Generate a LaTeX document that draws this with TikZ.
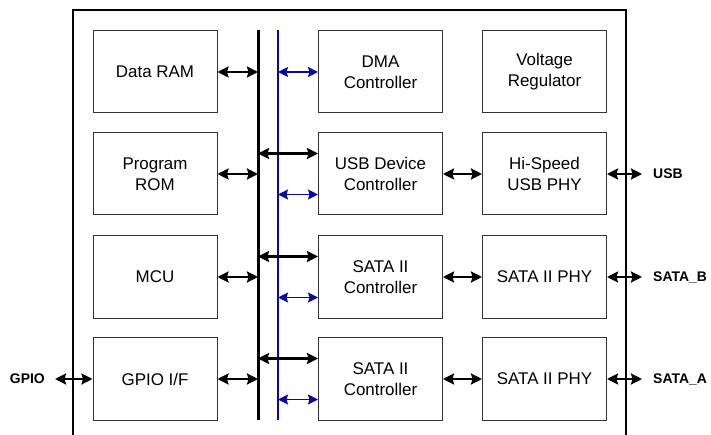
\documentclass[tikz,border=0pt]{standalone}
\usepackage{fontspec}
\setmainfont{Liberation Sans}
\usetikzlibrary{arrows.meta,positioning}
\definecolor{busblue}{RGB}{10,10,150}

\begin{document}
\begin{tikzpicture}[x=1bp,y=-1bp,
    block/.style={shape=rectangle,draw=black!80,line width=1bp,minimum width=124bp,minimum height=82bp,inner sep=0pt,align=center,font=\fontsize{17}{21}\selectfont},
    extlabel/.style={inner sep=0pt,font=\bfseries\fontsize{14}{16}\selectfont},
    blackarrow/.style={{Stealth[length=11bp,width=11bp,inset=1.5bp]}-{Stealth[length=11bp,width=11bp,inset=1.5bp]},line width=2.2bp,black},
    bluearrow/.style={{Stealth[length=10bp,width=10bp,inset=1.5bp]}-{Stealth[length=10bp,width=10bp,inset=1.5bp]},line width=1.8bp,busblue}]
    \useasboundingbox (0,0) rectangle (711,435);

    \draw[line width=2.7bp] (73,435) -- (73,10) -- (626,10) -- (626,435);

    \coordinate (kt) at (258,30);
    \coordinate (kb) at (258,420);
    \coordinate (bt) at (278,30);
    \coordinate (bb) at (278,420);
    \draw[line width=3bp] (kt) -- (kb);
    \draw[line width=2.6bp,busblue] (bt) -- (bb);

    \node[block] (ram) at (155,72) {Data RAM};
    \node[block] (rom) at (155,174) {Program\\ROM};
    \node[block] (mcu) at (155,277) {MCU};
    \node[block] (gpio) at (155,379) {GPIO I/F};
    \node[block] (dma) at (380.5,72) {DMA\\Controller};
    \node[block] (usbc) at (380.5,174) {USB Device\\Controller};
    \node[block] (satabc) at (380.5,277) {SATA II\\Controller};
    \node[block] (sataac) at (380.5,379) {SATA II\\Controller};
    \node[block] (vreg) at (544.5,72) {Voltage\\Regulator};
    \node[block] (usbphy) at (544.5,174) {Hi-Speed\\USB PHY};
    \node[block] (satabphy) at (544.5,277) {SATA II PHY};
    \node[block] (sataaphy) at (544.5,379) {SATA II PHY};

    \foreach \n in {ram,rom,mcu,gpio}
        \path[blackarrow] (\n.east) edge (\n.east -| kt);
    \foreach \n in {usbc,satabc,sataac} {
        \coordinate (\n-k) at ([yshift=20.5bp]\n.west);
        \coordinate (\n-b) at ([yshift=-20.5bp]\n.west);
        \path[blackarrow] (\n-k -| kt) edge (\n-k);
        \path[bluearrow] (\n-b -| bt) edge (\n-b);
    }
    \path[bluearrow] (dma.west -| bt) edge (dma.west);

    \path[blackarrow] (usbc) edge (usbphy);
    \path[blackarrow] (satabc) edge (satabphy);
    \path[blackarrow] (sataac) edge (sataaphy);

    \coordinate (usbend) at (642,174);
    \coordinate (satabend) at (642,277);
    \coordinate (sataaend) at (642,379);
    \coordinate (gpioend) at (55,379);
    \node[extlabel,right=11bp of usbend] (usb) {USB};
    \node[extlabel,right=11bp of satabend] (satab) {SATA\_B};
    \node[extlabel,right=11bp of sataaend] (sataa) {SATA\_A};
    \node[extlabel,left=10bp of gpioend] (gpiopin) {GPIO};
    \path[blackarrow] (usbphy) edge (usbend);
    \path[blackarrow] (satabphy) edge (satabend);
    \path[blackarrow] (sataaphy) edge (sataaend);
    \path[blackarrow] (gpioend) edge (gpio);
\end{tikzpicture}
\end{document}
